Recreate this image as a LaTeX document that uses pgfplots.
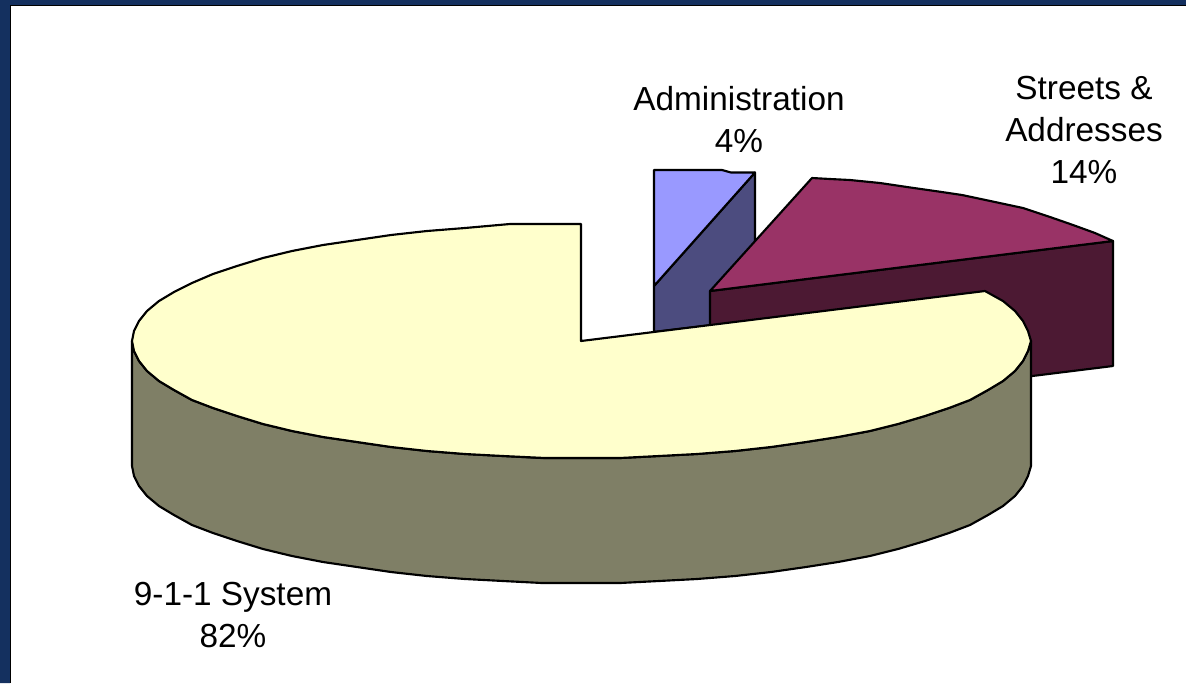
\documentclass[border=0pt]{standalone}
\usepackage{pgfplots}
\pgfplotsset{compat=1.18}
\usepackage{fontspec}
\setmainfont{Liberation Sans}
\definecolor{frame}{HTML}{14305F}
\definecolor{blueTop}{HTML}{9999FF}
\definecolor{blueSide}{HTML}{4C4C7F}
\definecolor{plumTop}{HTML}{993366}
\definecolor{plumSide}{HTML}{4C1933}
\definecolor{creamTop}{HTML}{FFFFCC}
\definecolor{creamSide}{HTML}{7F7F66}
\begin{document}
\begin{tikzpicture}
\begin{axis}[
    scale only axis,
    width=889.5pt,
    height=512.25pt,
    xmin=0, xmax=1186,
    ymin=0, ymax=683,
    y dir=reverse,
    hide axis,
    enlargelimits=false,
    every axis plot/.append style={mark=none, line join=round, line width=1.6pt, draw=black},
]
% page frame
\addplot[fill=frame, draw=none] coordinates {
    (0,0)(1186,0)(1186,5)(10,5)(10,683)(0,683)} --cycle;
\addplot[line width=0.9pt] coordinates {(1186,5.5)(10.5,5.5)(10.5,683)};

% Administration
\addplot[fill=blueSide] coordinates {
    (654,286)(755,172.5)(755,320)(654,332)} --cycle;
\addplot[fill=blueTop] coordinates {
    (654,286)(654,170)(722,170)(731,172.5)(755,172.5)} --cycle;

% Streets & Addresses
\addplot[fill=plumSide] coordinates {
    (710,291)(1113,241)(1113,366)(1000,380)(710,400)} --cycle;
\addplot[fill=plumTop] coordinates {
    (710,291)(812,178)(830,179)(850,180)(880,183)(907,187)(935,191)(962,195)
    (995,202)(1023,208)(1050,217)(1073,225)(1095,233)(1113,241)} --cycle;

% 9-1-1 System, side then top
\addplot[fill=creamSide] coordinates {
    (1031,341)(1028,351)(1023,361)(1015,371)(1003,381)(988,390)(970,400)(949,408)
    (925,416)(898,424)(870,431)(838,437)(806,442)(771,447)(735,451)(697,454)
    (659,456)(620,458)(581,458)(542,458)(503,456)(465,454)(427,451)(391,447)
    (357,442)(323,437)(292,431)(263,424)(237,416)(213,408)(192,400)(174,390)
    (159,381)(147,371)(139,361)(134,351)(132,341)
    (132,466)(134,476)(139,486)(147,496)(159,506)(174,515)(192,525)(213,533)
    (237,541)(263,549)(292,556)(323,562)(357,567)(391,572)(427,576)(465,579)
    (503,581)(542,583)(581,583)(620,583)(659,581)(697,579)(735,576)(771,572)
    (806,567)(838,562)(870,556)(898,549)(925,541)(949,533)(970,525)(988,515)
    (1003,506)(1015,496)(1023,486)(1028,476)(1031,466)} --cycle;
\addplot[fill=creamTop] coordinates {
    (581,341)(581,224)(510,224)(465,228)(427,231)(391,235)(357,240)(323,245)
    (292,251)(263,258)(237,266)(213,274)(192,283)(174,292)(159,301)(147,311)
    (139,321)(134,331)(132,341)(134,351)(139,361)(147,371)(159,381)(174,390)
    (192,400)(213,408)(237,416)(263,424)(292,431)(323,437)(357,442)(391,447)
    (427,451)(465,454)(503,456)(545,458)(620,458)(659,456)(697,454)(735,451)
    (771,447)(806,442)(838,437)(870,431)(898,424)(925,416)(949,408)(970,400)
    (988,390)(1003,381)(1015,371)(1023,361)(1028,351)(1031,341)(1028,331)
    (1023,321)(1015,311)(1003,301)(985,291)} --cycle;

\tikzset{lbl/.style={align=center, anchor=center, font=\fontsize{25}{31.5}\selectfont, inner sep=0pt}}
\node[lbl] at (axis cs:739,120) {Administration\\4\%};
\node[lbl] at (axis cs:1084,130) {Streets \&\\Addresses\\14\%};
\node[lbl] at (axis cs:233,615) {9-1-1 System\\82\%};
\end{axis}
\end{tikzpicture}
\end{document}
